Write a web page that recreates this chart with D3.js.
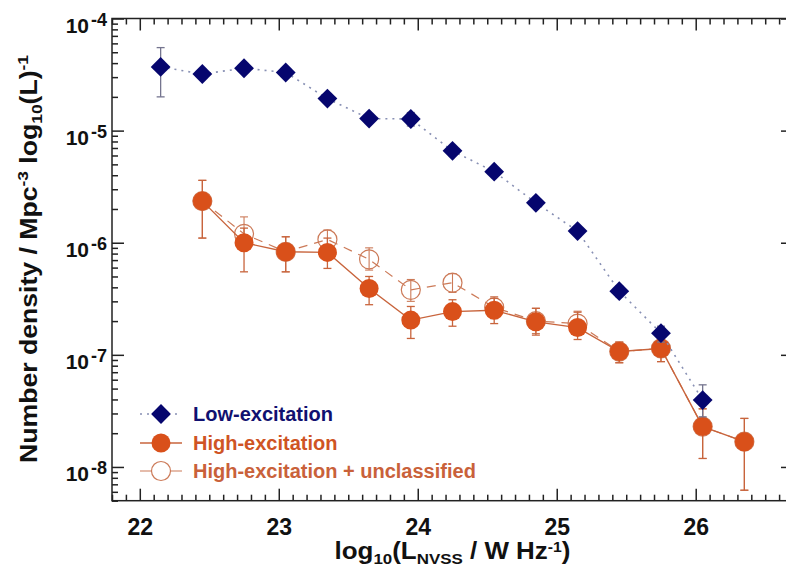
<!DOCTYPE html>
<html>
<head>
<meta charset="utf-8">
<script src="https://cdn.jsdelivr.net/npm/d3@7"></script>
<style>
body { margin: 0; background: #fff; }
text { font-family: "Liberation Sans", Arial, Helvetica, sans-serif; font-weight: bold; }
</style>
</head>
<body>
<div id="chart"></div>
<script>

// log10 luminance bin centres
var lowLum  = [22.15, 22.45, 22.75, 23.05, 23.35, 23.65, 23.95, 24.25, 24.55, 24.85, 25.15, 25.45, 25.75, 26.05];
var highLum = [22.45, 22.75, 23.05, 23.35, 23.65, 23.95, 24.25, 24.55, 24.85, 25.15, 25.45, 25.75, 26.05, 26.35];

// Low-excitation
var lowVal = [3.7e-5, 3.2e-5, 3.6e-5, 3.3e-5, 1.93e-5, 1.28e-5, 1.27e-5, 6.6e-6, 4.3e-6, 2.27e-6, 1.27e-6, 3.7e-7, 1.56e-7, 3.95e-8];
var lowLo  = [2.0e-5, 3.0e-5, 3.4e-5, 3.1e-5, 1.8e-5, 1.18e-5, 1.1e-5, 6.1e-6, 4.0e-6, 2.1e-6, 1.17e-6, 3.3e-7, 1.3e-7, 2.8e-8];
var lowHi  = [5.5e-5, 3.4e-5, 3.8e-5, 3.5e-5, 2.05e-5, 1.38e-5, 1.45e-5, 7.1e-6, 4.6e-6, 2.45e-6, 1.37e-6, 4.1e-7, 1.8e-7, 5.4e-8];

// High-excitation
var highVal = [2.35e-6, 1.0e-6, 8.3e-7, 8.2e-7, 3.9e-7, 2.04e-7, 2.43e-7, 2.5e-7, 1.97e-7, 1.75e-7, 1.07e-7, 1.14e-7, 2.29e-8, 1.68e-8];
var highLo  = [1.1e-6, 5.5e-7, 5.5e-7, 5.9e-7, 2.8e-7, 1.4e-7, 1.8e-7, 1.9e-7, 1.5e-7, 1.37e-7, 8.5e-8, 8.7e-8, 1.19e-8, 6.2e-9];
var highHi  = [3.6e-6, 1.35e-6, 1.13e-6, 1.1e-6, 5.0e-7, 2.7e-7, 3.1e-7, 3.2e-7, 2.6e-7, 2.4e-7, 1.3e-7, 1.45e-7, 3.3e-8, 2.71e-8];

// High-excitation + unclassified
var allVal = [2.35e-6, 1.2e-6, 8.3e-7, 1.07e-6, 7.1e-7, 3.8e-7, 4.4e-7, 2.65e-7, 2.0e-7, 1.9e-7, 1.07e-7, 1.14e-7, 2.29e-8, 1.68e-8];
var allLo  = [1.1e-6, 9.5e-7, 5.5e-7, 8.7e-7, 5.7e-7, 3.0e-7, 3.6e-7, 2.1e-7, 1.55e-7, 1.5e-7, 8.5e-8, 8.7e-8, 1.19e-8, 6.2e-9];
var allHi  = [3.6e-6, 1.7e-6, 1.13e-6, 1.3e-6, 9.0e-7, 4.7e-7, 5.3e-7, 3.3e-7, 2.6e-7, 2.45e-7, 1.3e-7, 1.45e-7, 3.3e-8, 2.71e-8];

var xMajor = [22, 23, 24, 25, 26];
var yMajor = [1e-8, 1e-7, 1e-6, 1e-5, 1e-4];
var yExp   = ["-8", "-7", "-6", "-5", "-4"];

var legendNames = ["Low-excitation", "High-excitation", "High-excitation + unclassified"];

var W = 786, H = 570;
var pLeft = 112, pRight = 793, pTop = 18.5, pBottom = 500.7;

var x = d3.scaleLinear().domain([21.8, 26.7]).range([pLeft, pRight]);
var y = d3.scaleLog().domain([5e-9, 1e-4]).range([pBottom, pTop]);

var xMinor = d3.range(218, 268).map(function(d) { return d / 10; })
  .filter(function(d) { return Math.abs(d - Math.round(d)) > 0.01; });
var yMinor = [];
d3.range(-9, -4).forEach(function(e) {
  d3.range(2, 10).forEach(function(m) {
    var v = m * Math.pow(10, e);
    if (v >= 5e-9 && v <= 1e-4) yMinor.push(v);
  });
});

var svg = d3.select("#chart").append("svg")
  .attr("width", W).attr("height", H);

svg.append("rect").attr("width", W).attr("height", H).attr("fill", "#fff");

// frame
svg.append("rect")
  .attr("x", pLeft).attr("y", pTop)
  .attr("width", pRight - pLeft).attr("height", pBottom - pTop)
  .attr("fill", "none").attr("stroke", "#222").attr("stroke-width", 1.5);

function tickAxis(axis, tx, ty, vals, size) {
  var g = svg.append("g").attr("transform", "translate(" + tx + "," + ty + ")")
    .call(axis.tickValues(vals).tickSizeInner(-size).tickSizeOuter(0).tickFormat(""));
  g.select(".domain").remove();
  g.selectAll(".tick line").attr("stroke", "#222").attr("stroke-width", 1.5);
  return g;
}

// minor + major ticks on all four sides, pointing inward
tickAxis(d3.axisBottom(x), 0, pBottom, xMinor, 6);
tickAxis(d3.axisTop(x), 0, pTop, xMinor, 6);
tickAxis(d3.axisLeft(y), pLeft, 0, yMinor, 6);
tickAxis(d3.axisRight(y), pRight, 0, yMinor, 6);
tickAxis(d3.axisTop(x), 0, pTop, xMajor, 12);
tickAxis(d3.axisRight(y), pRight, 0, yMajor, 12);

var xAx = tickAxis(d3.axisBottom(x), 0, pBottom, xMajor, 12);
xAx.selectAll(".tick text")
  .text(function(d) { return d; })
  .attr("y", 34).attr("dy", null)
  .attr("fill", "#111").style("font-size", "23px");

var yAx = tickAxis(d3.axisLeft(y), pLeft, 0, yMajor, 12);
yAx.selectAll(".tick text").each(function(d, i) {
  var t = d3.select(this).attr("x", -5).attr("dy", null).attr("y", 14)
    .attr("fill", "#111").style("font-size", "21px").text(null);
  t.append("tspan").text("10");
  t.append("tspan").attr("dy", -7).attr("dx", 2).style("font-size", "18px").text(yExp[i]);
});

// line generators
function lineOf(xs, vs) {
  return d3.line().x(function(d, i) { return x(xs[i]); }).y(function(d) { return y(d); })(vs);
}

function errorBars(xs, lo, hi, color, width) {
  var g = svg.append("g").attr("stroke", color).attr("stroke-width", width);
  xs.forEach(function(xv, i) {
    g.append("line").attr("x1", x(xv)).attr("x2", x(xv)).attr("y1", y(lo[i])).attr("y2", y(hi[i]));
    g.append("line").attr("x1", x(xv) - 4).attr("x2", x(xv) + 4).attr("y1", y(lo[i])).attr("y2", y(lo[i]));
    g.append("line").attr("x1", x(xv) - 4).attr("x2", x(xv) + 4).attr("y1", y(hi[i])).attr("y2", y(hi[i]));
  });
}

var navy = "#06066e", orange = "#d9501a", orangeLine = "#c8643c", openColor = "#cc7a58";

// High-excitation + unclassified (open circles, dashed)
svg.append("path").attr("d", lineOf(highLum, allVal))
  .attr("fill", "none").attr("stroke", openColor).attr("stroke-width", 1.2)
  .attr("stroke-dasharray", "9,7");
errorBars(highLum, allLo, allHi, openColor, 1.1);
svg.append("g").selectAll("circle").data(allVal).enter().append("circle")
  .attr("cx", function(d, i) { return x(highLum[i]); })
  .attr("cy", function(d) { return y(d); })
  .attr("r", 9.5).attr("fill", "none").attr("stroke", openColor).attr("stroke-width", 1.2);

// High-excitation (filled circles, solid)
svg.append("path").attr("d", lineOf(highLum, highVal))
  .attr("fill", "none").attr("stroke", orangeLine).attr("stroke-width", 1.4);
errorBars(highLum, highLo, highHi, orangeLine, 1.3);
svg.append("g").selectAll("circle").data(highVal).enter().append("circle")
  .attr("cx", function(d, i) { return x(highLum[i]); })
  .attr("cy", function(d) { return y(d); })
  .attr("r", 9.5).attr("fill", orange);

// Low-excitation (diamonds, dotted)
svg.append("path").attr("d", lineOf(lowLum, lowVal))
  .attr("fill", "none").attr("stroke", "#8890b4").attr("stroke-width", 1.6)
  .attr("stroke-dasharray", "2,5");
errorBars(lowLum, lowLo, lowHi, "#75758f", 1.3);
var diamond = d3.symbol().type(d3.symbolDiamond2).size(250);
svg.append("g").selectAll("path").data(lowVal).enter().append("path")
  .attr("d", diamond)
  .attr("transform", function(d, i) { return "translate(" + x(lowLum[i]) + "," + y(d) + ")"; })
  .attr("fill", navy);

// legend
var legY = [414, 443, 471];
var leg = svg.append("g");
leg.append("line").attr("x1", 140).attr("x2", 182).attr("y1", legY[0]).attr("y2", legY[0])
  .attr("stroke", "#8890b4").attr("stroke-width", 1.6).attr("stroke-dasharray", "2,5");
leg.append("path").attr("d", diamond).attr("transform", "translate(161," + legY[0] + ")").attr("fill", navy);
leg.append("line").attr("x1", 140).attr("x2", 182).attr("y1", legY[1]).attr("y2", legY[1])
  .attr("stroke", orangeLine).attr("stroke-width", 1.4);
leg.append("circle").attr("cx", 161).attr("cy", legY[1]).attr("r", 9.5).attr("fill", orange);
leg.append("line").attr("x1", 140).attr("x2", 182).attr("y1", legY[2]).attr("y2", legY[2])
  .attr("stroke", openColor).attr("stroke-width", 1.2);
leg.append("circle").attr("cx", 161).attr("cy", legY[2]).attr("r", 9.5)
  .attr("fill", "#fff").attr("stroke", openColor).attr("stroke-width", 1.2);
var legColors = ["#101070", "#cf5424", "#c9613a"];
leg.selectAll("text").data(legendNames).enter().append("text")
  .attr("x", 193).attr("y", function(d, i) { return legY[i] + 7; })
  .attr("fill", function(d, i) { return legColors[i]; })
  .style("font-size", "20px").text(function(d) { return d; });

// axis titles
var xt = svg.append("text").attr("x", (pLeft + pRight) / 2).attr("y", 559)
  .attr("text-anchor", "middle").attr("fill", "#111").style("font-size", "23px")
  .attr("textLength", 236).attr("lengthAdjust", "spacingAndGlyphs");
xt.append("tspan").text("log");
xt.append("tspan").attr("dy", 5).style("font-size", "15px").text("10");
xt.append("tspan").attr("dy", -5).text("(L");
xt.append("tspan").attr("dy", 5).style("font-size", "15px").text("NVSS");
xt.append("tspan").attr("dy", -5).text(" / W Hz");
xt.append("tspan").attr("dy", -7).style("font-size", "14px").text("-1");
xt.append("tspan").attr("dy", 7).text(")");

var yt = svg.append("text").attr("transform", "translate(37,259) rotate(-90)")
  .attr("text-anchor", "middle").attr("fill", "#111").style("font-size", "23px")
  .attr("textLength", 408).attr("lengthAdjust", "spacingAndGlyphs");
yt.append("tspan").text("Number density / Mpc");
yt.append("tspan").attr("dy", -9).style("font-size", "15px").text("-3");
yt.append("tspan").attr("dy", 9).text(" log");
yt.append("tspan").attr("dy", 5).style("font-size", "15px").text("10");
yt.append("tspan").attr("dy", -5).text("(L)");
yt.append("tspan").attr("dy", -9).style("font-size", "15px").text("-1");

</script>
</body>
</html>
